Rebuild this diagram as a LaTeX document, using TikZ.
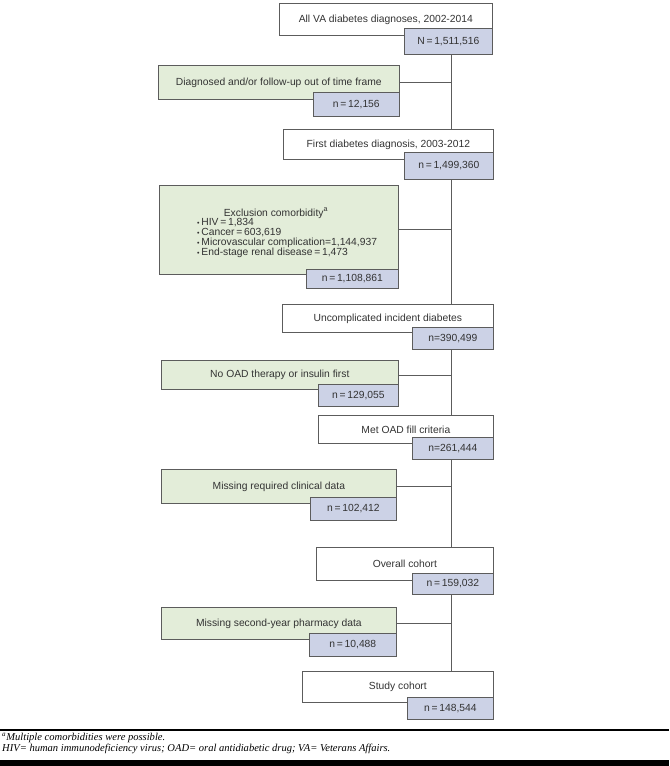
\documentclass[tikz,border=0pt]{standalone}
\usepackage{fontspec}
\setmainfont{Liberation Sans}
\newfontfamily\notefont{Liberation Serif}
\definecolor{exclgreen}{HTML}{E3EDD9}
\definecolor{countblue}{HTML}{CCD2E6}
\definecolor{linegray}{HTML}{5C5C5C}
\definecolor{textgray}{HTML}{333333}

\begin{document}
\begin{tikzpicture}[
    x=0.03cm, y=-0.03cm,
    box/.style={draw=linegray, line width=0.6pt, anchor=north west, inner sep=1pt,
        text=textgray, font=\fontsize{8.8}{10}\selectfont},
    whitebox/.style={box, fill=white},
    exclbox/.style={box, fill=exclgreen},
    countbox/.style={box, fill=countblue},
    link/.style={draw=linegray, line width=0.6pt},
    bullet/.style={anchor=west, inner sep=0pt, text=textgray, font=\fontsize{8.8}{10}\selectfont},
    note/.style={anchor=west, inner sep=0pt, font=\notefont\itshape\fontsize{9}{10}\selectfont},
]
\useasboundingbox (0,0) rectangle (669,766);

% Main flow
\foreach \nm/\x/\y/\w/\h/\txt in {
    b1/279/3/213/32/{All VA diabetes diagnoses, 2002-2014},
    b2/283/129/210/30/{First diabetes diagnosis, 2003-2012},
    b3/282/304/211/28/{Uncomplicated incident diabetes},
    b4/318/415/175/28/{Met OAD fill criteria},
    b5/316/547/177/33/{Overall cohort},
    b6/302/671/191/31/{Study cohort}
} {
    \node[whitebox, minimum width=\w*0.03cm, minimum height=\h*0.03cm] (\nm) at (\x,\y) {\txt};
}
% Exclusions
\foreach \nm/\x/\y/\w/\h/\txt in {
    e1/158/65/241/34/{Diagnosed and/or follow-up out of time frame},
    e2/159/185/239/89/{},
    e3/161/360/237/29/{No OAD therapy or insulin first},
    e4/161/469/235/34/{Missing required clinical data},
    e5/161/607/235/32/{Missing second-year pharmacy data}
} {
    \node[exclbox, minimum width=\w*0.03cm, minimum height=\h*0.03cm] (\nm) at (\x,\y) {\txt};
}
% Counts
\foreach \nm/\x/\y/\w/\h/\txt in {
    n1/404/28/88/26/{N\,=\,1,511,516},
    n2/404/152/89/27/{n\,=\,1,499,360},
    n3/412/327/81/22/{n=390,499},
    n4/412/437/81/22/{n=261,444},
    n5/412/573/81/21/{n\,=\,159,032},
    n6/407/697/86/22/{n\,=\,148,544},
    m1/313/92/86/24/{n\,=\,12,156},
    m2/306/269/92/19/{n\,=\,1,108,861},
    m3/318/384/80/22/{n\,=\,129,055},
    m4/310/497/86/23/{n\,=\,102,412},
    m5/309/633/87/23/{n\,=\,10,488}
} {
    \node[countbox, minimum width=\w*0.03cm, minimum height=\h*0.03cm] (\nm) at (\x,\y) {\txt};
}

% Comorbidity list
\node[bullet, anchor=center] (cotitle) at (276,213) {Exclusion comorbidity\textsuperscript{a}};
\foreach \i/\txt in {
    0/{HIV\,=\,1,834},
    1/{Cancer\,=\,603,619},
    2/{Microvascular complication=1,144,937},
    3/{End-stage renal disease\,=\,1,473}
} {
    \node[bullet] (co\i) at (197,223+\i*10) {{\fontsize{6}{6}\selectfont\textbullet}\,\txt};
}

% Spine
\coordinate (spine) at (451,0);
\foreach \a/\b in {n1/b2, n2/b3, n3/b4, n4/b5, n5/b6}
    \draw[link] (\a.south -| spine) -- (\b.north -| spine);
\foreach \e in {e1,e2,e3,e4,e5}
    \draw[link] (\e.east) -- (\e.east -| spine);

% Footnotes
\draw[line width=1pt] (0,730) -- (669,730);
\node[note] (fn1) at (2,738) {\textsuperscript{a}Multiple comorbidities were possible.};
\node[note] (fn2) at (2,749) {HIV= human immunodeficiency virus; OAD= oral antidiabetic drug; VA= Veterans Affairs.};
\fill (0,760) rectangle (669,766);
\end{tikzpicture}
\end{document}
